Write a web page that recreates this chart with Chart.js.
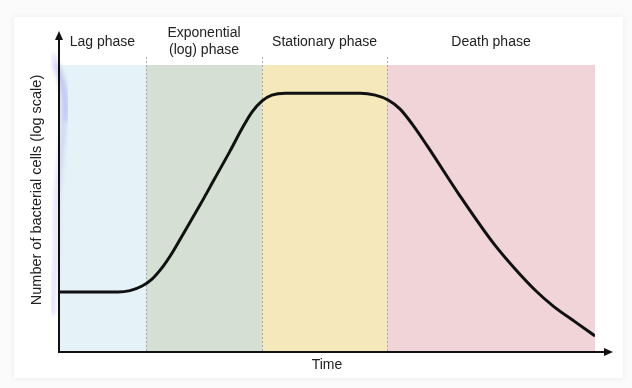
<!DOCTYPE html>
<html>
<head>
<meta charset="utf-8">
<script src="https://cdn.jsdelivr.net/npm/chart.js@4"></script>
<style>
  body { margin: 0; background: #fbfbfc; }
  #wrap { position: relative; width: 632px; height: 388px; }
  #card { position: absolute; left: 14px; top: 17px; width: 609px; height: 361px;
          background: #fff; box-shadow: 0 0 6px rgba(0,0,0,0.07); }
  #myChart { position: absolute; left: 0; top: 0; }
  #mark { position: absolute; left: 0; top: 0; pointer-events: none; mix-blend-mode: multiply; }
</style>
</head>
<body>
<div id="wrap">
  <div id="card"></div>
  <canvas id="myChart" width="632" height="388"></canvas>
  <svg id="mark" width="632" height="388">
    <defs><filter id="soft"><feGaussianBlur stdDeviation="2"/></filter></defs>
    <g filter="url(#soft)" fill="none" stroke="rgba(175,165,240,0.30)" stroke-linecap="round">
      <path d="M54 57 C58 72, 66 88, 64 118 C62 155, 55 190, 56 232 C57 272, 52 292, 53 312" stroke-width="6"/>
      <path d="M56 66 C62 80, 68 95, 66 118" stroke-width="7"/>
    </g>
  </svg>
</div>
<script>
// growth curve (time 0-100, log cells 0-10)
var timePoints = [0, 7.65, 11.0, 13.25, 15.5, 17.35, 19.2, 21.1, 23.5, 26.3, 29.1, 31.9, 34.1, 36.0, 37.9, 39.7, 42.2,
                  56.2, 59.0, 61.4, 63.6, 65.9, 68.7, 74.8, 81.0, 85.1, 88.8, 92.2, 96.3, 100];
var logCells   = [2.09, 2.09, 2.09, 2.14, 2.30, 2.54, 2.93, 3.45, 4.22, 5.12, 6.06, 7.00, 7.77, 8.36, 8.75, 8.95, 9.02,
                  9.02, 8.95, 8.78, 8.47, 7.94, 7.18, 5.44, 3.80, 2.89, 2.16, 1.60, 1.05, 0.56];

// phases
var phaseNames = [['Lag phase'], ['Exponential', '(log) phase'], ['Stationary phase'], ['Death phase']];
var phaseStarts = [0, 16.2, 37.9, 61.2];
var phaseEnds   = [16.2, 37.9, 61.2, 100];
var phaseColors = ['#e5f2f8', '#d5dfd4', '#f5e8ba', '#f0d4d8'];

var yTitle = 'Number of bacterial cells (log scale)';
var xTitle = 'Time';

var FONT = '"Liberation Sans", Arial, sans-serif';

var pts = timePoints.map(function (t, i) { return {x: t, y: logCells[i]}; });

var phasePlugin = {
  id: 'phases',
  beforeDatasetsDraw: function (chart) {
    var ctx = chart.ctx, xs = chart.scales.x, a = chart.chartArea;
    ctx.save();
    for (var i = 0; i < phaseStarts.length; i++) {
      var x0 = xs.getPixelForValue(phaseStarts[i]);
      var x1 = xs.getPixelForValue(phaseEnds[i]);
      ctx.fillStyle = phaseColors[i];
      ctx.fillRect(x0, a.top, x1 - x0, a.bottom - a.top);
    }
    ctx.strokeStyle = '#a8a8a8';
    ctx.lineWidth = 1;
    ctx.setLineDash([2, 2]);
    for (var j = 1; j < phaseStarts.length; j++) {
      var x = Math.round(xs.getPixelForValue(phaseStarts[j])) + 0.5;
      ctx.beginPath();
      ctx.moveTo(x, a.top - 8);
      ctx.lineTo(x, a.bottom);
      ctx.stroke();
    }
    ctx.restore();
  },
  afterDatasetsDraw: function (chart) {
    var ctx = chart.ctx, xs = chart.scales.x, a = chart.chartArea;
    ctx.save();
    // axes with arrows
    ctx.strokeStyle = '#111';
    ctx.fillStyle = '#111';
    ctx.lineWidth = 2;
    ctx.beginPath();
    ctx.moveTo(a.left, a.top - 28);
    ctx.lineTo(a.left, a.bottom);
    ctx.lineTo(a.right + 12, a.bottom);
    ctx.stroke();
    ctx.beginPath();
    ctx.moveTo(a.left, a.top - 34);
    ctx.lineTo(a.left - 4, a.top - 25);
    ctx.lineTo(a.left + 4, a.top - 25);
    ctx.closePath();
    ctx.fill();
    ctx.beginPath();
    ctx.moveTo(a.right + 18, a.bottom);
    ctx.lineTo(a.right + 9, a.bottom - 4);
    ctx.lineTo(a.right + 9, a.bottom + 4);
    ctx.closePath();
    ctx.fill();
    // phase labels
    ctx.fillStyle = '#222';
    ctx.font = '14px ' + FONT;
    ctx.textAlign = 'center';
    ctx.textBaseline = 'middle';
    for (var i = 0; i < phaseNames.length; i++) {
      var cx = (xs.getPixelForValue(phaseStarts[i]) + xs.getPixelForValue(phaseEnds[i])) / 2;
      var lines = phaseNames[i];
      var y0 = 42 - (lines.length - 1) * 8.5;
      for (var k = 0; k < lines.length; k++) {
        ctx.fillText(lines[k], cx, y0 + k * 17);
      }
    }
    // y axis title
    ctx.font = '14.5px ' + FONT;
    ctx.translate(37, 190);
    ctx.rotate(-Math.PI / 2);
    ctx.fillText(yTitle, 0, 0);
    ctx.restore();
  }
};

var myChart = new Chart(document.getElementById('myChart'), {
  type: 'line',
  data: {
    datasets: [{
      data: pts,
      borderColor: '#111',
      borderWidth: 3,
      pointRadius: 0,
      fill: false,
      cubicInterpolationMode: 'monotone'
    }]
  },
  options: {
    responsive: false,
    devicePixelRatio: 1,
    animation: false,
    layout: { padding: { left: 59, right: 37, top: 65, bottom: 14.6 } },
    plugins: { legend: { display: false }, tooltip: { enabled: false } },
    scales: {
      x: {
        type: 'linear', min: 0, max: 100,
        grid: { display: false, drawTicks: false },
        border: { display: false },
        ticks: { display: false },
        title: { display: true, text: xTitle, color: '#222',
                 font: { family: FONT, size: 14 }, padding: { top: 4.6, bottom: 0 } }
      },
      y: {
        display: false,
        min: 0, max: 10
      }
    }
  },
  plugins: [phasePlugin]
});
</script>
</body>
</html>
